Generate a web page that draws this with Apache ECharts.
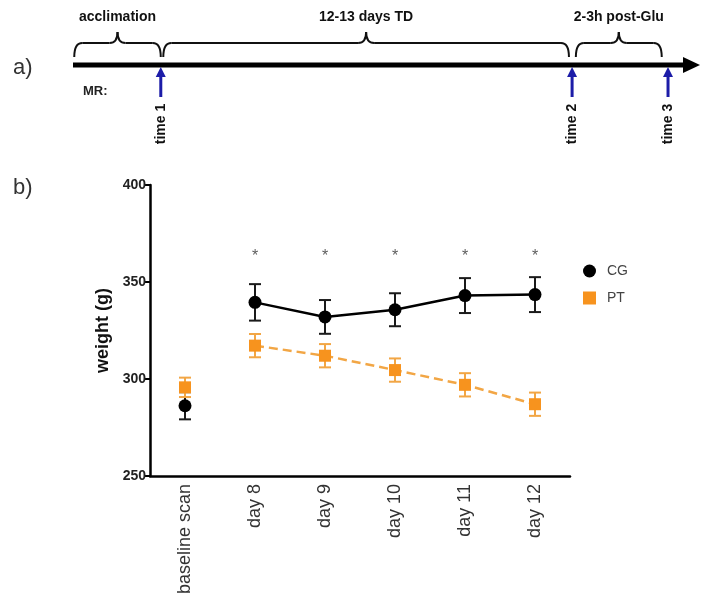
<!DOCTYPE html>
<html><head><meta charset="utf-8">
<script src="https://cdn.jsdelivr.net/npm/echarts@6/dist/echarts.min.js"></script>
<style>html,body{margin:0;padding:0;background:#fff}#c{width:714px;height:608px}</style>
</head><body><div id="c"></div>
<script>
// ---- data (panel b) ----
const categories = ['baseline scan', 'day 8', 'day 9', 'day 10', 'day 11', 'day 12'];
const cgMean = [286.2, 339.5, 332.0, 335.7, 343.0, 343.5];
const cgErr  = [7.0, 9.4, 8.7, 8.5, 9.0, 9.0];
const ptMean = [295.7, 317.2, 312.0, 304.6, 297.0, 287.0];
const ptErr  = [5.0, 6.0, 6.0, 6.0, 6.0, 6.0];
const sigCategories = ['day 8', 'day 9', 'day 10', 'day 11', 'day 12'];
const sigMarkY = 363;
const yTicks = [250, 300, 350, 400];

// ---- schematic timeline (panel a), arbitrary units 0..100 ----
const timelineRange = [0, 100];
const phaseNames = ['acclimation', '12-13 days TD', '2-3h post-Glu'];
const phaseStart = [0.2, 14.4, 80.2];
const phaseEnd   = [14.0, 79.1, 93.9];
const scanNames = ['time 1', 'time 2', 'time 3'];
const scanPos   = [14.0, 79.6, 94.9];

const FONT = 'Liberation Sans, Arial, sans-serif';
const CG_COLOR = '#000000';
const PT_COLOR = '#f7931e';
const PT_LINE = '#f2a645';

function renderTimeline(params, api) {
  const a = api.coord([api.value(0), 0.5]);
  const b = api.coord([api.value(1), 0.5]);
  const ly = a[1];
  return { type: 'group', children: [
    { type: 'line', shape: { x1: a[0], y1: ly, x2: b[0] - 12, y2: ly }, style: { stroke: '#000', lineWidth: 5 } },
    { type: 'polygon', shape: { points: [[b[0] - 17, ly - 8], [b[0], ly], [b[0] - 17, ly + 8]] }, style: { fill: '#000' } }
  ]};
}

function renderBrace(params, api) {
  const p0 = api.coord([api.value(0), 0.5]);
  const p1 = api.coord([api.value(1), 0.5]);
  const x0 = p0[0], x1 = p1[0], xm = (x0 + x1) / 2, ly = p0[1];
  const yb = ly - 8, yt = ly - 22, tip = ly - 33, r = 8;
  const st = { stroke: '#111', lineWidth: 2, fill: null };
  return { type: 'group', children: [
    { type: 'bezierCurve', shape: { x1: x0, y1: yb, x2: x0 + r, y2: yt, cpx1: x0, cpy1: yt }, style: st },
    { type: 'line', shape: { x1: x0 + r, y1: yt, x2: xm - r, y2: yt }, style: st },
    { type: 'bezierCurve', shape: { x1: xm - r, y1: yt, x2: xm, y2: tip, cpx1: xm, cpy1: yt }, style: st },
    { type: 'bezierCurve', shape: { x1: xm, y1: tip, x2: xm + r, y2: yt, cpx1: xm, cpy1: yt }, style: st },
    { type: 'line', shape: { x1: xm + r, y1: yt, x2: x1 - r, y2: yt }, style: st },
    { type: 'bezierCurve', shape: { x1: x1 - r, y1: yt, x2: x1, y2: yb, cpx1: x1, cpy1: yt }, style: st },
    { type: 'text', x: xm, y: ly - 48, style: { text: phaseNames[params.dataIndex], fontSize: 14, fontWeight: 'bold', fill: '#111', align: 'center', verticalAlign: 'middle', fontFamily: FONT } }
  ]};
}

function renderScan(params, api) {
  const p = api.coord([api.value(0), 0.5]);
  const x = p[0], ly = p[1];
  const col = '#1c1ca8';
  return { type: 'group', children: [
    { type: 'line', shape: { x1: x, y1: ly + 32, x2: x, y2: ly + 10 }, style: { stroke: col, lineWidth: 3 } },
    { type: 'polygon', shape: { points: [[x - 5, ly + 12], [x, ly + 2], [x + 5, ly + 12]] }, style: { fill: col } },
    { type: 'text', x: x, y: ly + 59, rotation: Math.PI / 2, style: { text: scanNames[params.dataIndex], fontSize: 14, fontWeight: 'bold', fill: '#111', align: 'center', verticalAlign: 'middle', fontFamily: FONT } }
  ]};
}

function makeErr(color) {
  return function (params, api) {
    const x = api.value(0), lo = api.value(1), hi = api.value(2);
    const a = api.coord([x, hi]), b = api.coord([x, lo]);
    const w = 6;
    const st = { stroke: color, lineWidth: 2 };
    return { type: 'group', children: [
      { type: 'line', shape: { x1: a[0], y1: a[1], x2: b[0], y2: b[1] }, style: st },
      { type: 'line', shape: { x1: a[0] - w, y1: a[1], x2: a[0] + w, y2: a[1] }, style: st },
      { type: 'line', shape: { x1: b[0] - w, y1: b[1], x2: b[0] + w, y2: b[1] }, style: st }
    ]};
  };
}

const chart = echarts.init(document.getElementById('c'), null, { renderer: 'canvas' });
chart.setOption({
  animation: false,
  backgroundColor: '#fff',
  textStyle: { fontFamily: FONT },
  title: [
    { text: 'a)', left: 8, top: 52, textStyle: { fontSize: 22, fontWeight: 'normal', color: '#333', fontFamily: FONT } },
    { text: 'b)', left: 8, top: 172, textStyle: { fontSize: 22, fontWeight: 'normal', color: '#333', fontFamily: FONT } },
    { text: 'MR:', left: 78, top: 80, textStyle: { fontSize: 13, fontWeight: 'bold', color: '#222', fontFamily: FONT } }
  ],
  legend: {
    data: [{ name: 'CG', icon: 'circle' }, { name: 'PT', icon: 'rect' }],
    orient: 'vertical', left: 578, top: 259,
    itemWidth: 13, itemHeight: 13, itemGap: 13,
    textStyle: { fontSize: 14, color: '#444', fontFamily: FONT, padding: [0, 0, 0, 6] },
    selectedMode: false
  },
  grid: [
    { left: 150, top: 185, width: 420, height: 291, containLabel: false },
    { left: 73, top: 15, width: 627, height: 100, containLabel: false }
  ],
  xAxis: [
    {
      type: 'category', data: categories, gridIndex: 0, boundaryGap: true,
      axisLine: { lineStyle: { color: '#000', width: 2.5 } },
      axisTick: { alignWithLabel: true, length: 6, lineStyle: { color: '#000', width: 2 } },
      axisLabel: { rotate: 90, fontSize: 18, color: '#333', margin: 8, fontFamily: FONT },
      splitLine: { show: false }
    },
    { type: 'value', gridIndex: 1, min: timelineRange[0], max: timelineRange[1], show: false }
  ],
  yAxis: [
    {
      type: 'value', gridIndex: 0, min: yTicks[0], max: yTicks[yTicks.length - 1], interval: yTicks[1] - yTicks[0],
      name: 'weight (g)', nameLocation: 'middle', nameGap: 36,
      nameTextStyle: { fontSize: 18, fontWeight: 'bold', color: '#111', fontFamily: FONT },
      axisLine: { show: true, lineStyle: { color: '#000', width: 2.5 } },
      axisTick: { show: true, length: 6, lineStyle: { color: '#000', width: 2 } },
      axisLabel: { fontSize: 14, fontWeight: 'bold', color: '#222', margin: 4, fontFamily: FONT },
      splitLine: { show: false }
    },
    { type: 'value', gridIndex: 1, min: 0, max: 1, show: false }
  ],
  series: [
    // panel a
    { type: 'custom', name: 'timeline', xAxisIndex: 1, yAxisIndex: 1, renderItem: renderTimeline,
      data: [[timelineRange[0], timelineRange[1]]], encode: { x: [0, 1] }, silent: true, z: 2 },
    { type: 'custom', name: 'phases', xAxisIndex: 1, yAxisIndex: 1, renderItem: renderBrace,
      data: phaseStart.map((s, i) => [s, phaseEnd[i]]), encode: { x: [0, 1] }, silent: true, z: 3 },
    { type: 'custom', name: 'scans', xAxisIndex: 1, yAxisIndex: 1, renderItem: renderScan,
      data: scanPos.map(p => [p]), encode: { x: 0 }, silent: true, z: 3 },
    // panel b error bars
    { type: 'custom', name: 'CG err', renderItem: makeErr('#1a1a1a'),
      data: cgMean.map((m, i) => [i, m - cgErr[i], m + cgErr[i]]), encode: { x: 0, y: [1, 2] }, z: 2, silent: true },
    { type: 'custom', name: 'PT err', renderItem: makeErr(PT_LINE),
      data: ptMean.map((m, i) => [i, m - ptErr[i], m + ptErr[i]]), encode: { x: 0, y: [1, 2] }, z: 2, silent: true },
    // panel b lines
    { type: 'line', name: 'PT', data: ptMean.map((v, i) => i === 0 ? '-' : v),
      symbol: 'rect', symbolSize: 12, itemStyle: { color: PT_COLOR },
      lineStyle: { color: PT_LINE, width: 2.5, type: [9, 5] }, z: 4 },
    { type: 'scatter', name: 'PT', data: [[0, ptMean[0]]], symbol: 'rect', symbolSize: 12,
      itemStyle: { color: PT_COLOR, opacity: 1 }, z: 4 },
    { type: 'line', name: 'CG', data: cgMean.map((v, i) => i === 0 ? '-' : v),
      symbol: 'circle', symbolSize: 13, itemStyle: { color: CG_COLOR },
      lineStyle: { color: CG_COLOR, width: 2.5 }, z: 5 },
    { type: 'scatter', name: 'CG', data: [[0, cgMean[0]]], symbol: 'circle', symbolSize: 13,
      itemStyle: { color: CG_COLOR, opacity: 1 }, z: 5 },
    // significance marks
    { type: 'scatter', name: 'sig', data: sigCategories.map(c => [categories.indexOf(c), sigMarkY]),
      symbolSize: 0, silent: true,
      label: { show: true, formatter: '*', position: 'inside', fontSize: 16, color: '#333', fontFamily: FONT } }
  ]
});
</script>
</body></html>
